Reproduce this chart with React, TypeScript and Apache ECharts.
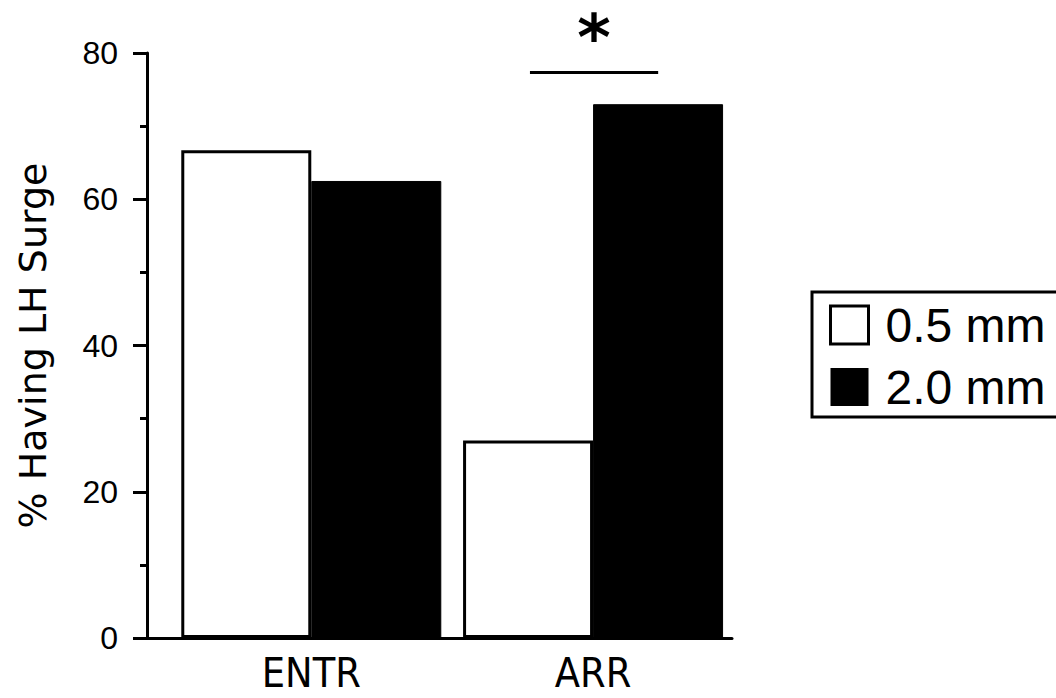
import React, { useEffect, useRef } from "react";
import * as echarts from "echarts";

// ---- data ----
const categories = ["ENTR", "ARR"];
const categoryPositions = [0, 1];
const seriesNames = ["0.5 mm", "2.0 mm"];
const values05 = [66.7, 27.0];
const values20 = [62.5, 73.0];
const yTicks = [0, 20, 40, 60, 80];
const yAxisTitle = "% Having LH Surge";
// significance annotation (ARR: 0.5 vs 2.0 mm)
const sigLineX = [0.776, 1.231];
const sigLineY = 77.3;
const sigLabel = "*";

export default function App() {
  const ref = useRef<HTMLDivElement>(null);
  useEffect(() => {
    if (!ref.current) return;
    const chart = echarts.init(ref.current, null, { renderer: "svg" });
    const black = "#000";
    chart.setOption({
      animation: false,
      backgroundColor: "#fff",
      grid: {
        left: 147,
        top: 53,
        width: 585,
        height: 585,
        containLabel: false,
        outerBoundsMode: "none",
      },
      legend: {
        orient: "vertical",
        left: 812,
        top: 292,
        padding: [9, 80, 6, 17],
        itemWidth: 38,
        itemHeight: 38,
        itemGap: 14,
        borderColor: black,
        borderWidth: 3,
        borderRadius: 0,
        selectedMode: false,
        textStyle: {
          fontFamily: "Liberation Sans",
          fontSize: 48,
          color: black,
          padding: [0, 0, 0, 12],
        },
        data: [
          {
            name: seriesNames[0],
            icon: "rect",
            itemStyle: { color: "#fff", borderColor: black, borderWidth: 3 },
          },
          {
            name: seriesNames[1],
            icon: "rect",
            itemStyle: { color: black, borderColor: black, borderWidth: 0 },
          },
        ],
      },
      xAxis: {
        type: "value",
        min: -0.583,
        max: 1.493,
        splitLine: { show: false },
        axisTick: { show: false },
        axisLine: { show: true, onZero: false, lineStyle: { color: black, width: 3 } },
        axisLabel: {
          customValues: categoryPositions,
          formatter: (v: number) => categories[Math.round(v)] ?? "",
          fontFamily: "DejaVu Sans Condensed, DejaVu Sans",
          fontSize: 41,
          color: black,
          margin: 14,
        },
      },
      yAxis: {
        type: "value",
        min: yTicks[0],
        max: yTicks[yTicks.length - 1],
        interval: yTicks[1] - yTicks[0],
        name: yAxisTitle,
        nameLocation: "middle",
        nameGap: 95,
        nameTextStyle: {
          fontFamily: "DejaVu Sans",
          fontSize: 38,
          color: black,
        },
        splitLine: { show: false },
        axisLine: { show: true, onZero: false, lineStyle: { color: black, width: 3 } },
        axisTick: { show: true, length: 14, lineStyle: { color: black, width: 3 } },
        minorTick: { show: true, splitNumber: 2, length: 7, lineStyle: { color: black, width: 3 } },
        axisLabel: {
          fontFamily: "Liberation Sans",
          fontSize: 32,
          color: black,
          margin: 29,
        },
      },
      series: [
        {
          name: seriesNames[0],
          type: "bar",
          barWidth: 130,
          barGap: "0%",
          data: categoryPositions.map((x, i) => [x, values05[i]]),
          itemStyle: { color: "#fff", borderColor: black, borderWidth: 3 },
        },
        {
          name: seriesNames[1],
          type: "bar",
          barWidth: 130,
          barGap: "0%",
          data: categoryPositions.map((x, i) => [x, values20[i]]),
          itemStyle: { color: black, borderColor: black, borderWidth: 1 },
        },
        {
          name: "significance",
          type: "line",
          data: [],
          silent: true,
          markLine: {
            silent: true,
            symbol: ["none", "none"],
            lineStyle: { color: black, width: 3, type: "solid" },
            label: {
              show: true,
              position: "middle",
              formatter: sigLabel,
              distance: 3,
              fontFamily: "DejaVu Sans",
              fontWeight: "bold",
              fontSize: 64,
              color: black,
            },
            emphasis: { disabled: true },
            data: [
              [
                { coord: [sigLineX[0], sigLineY] },
                { coord: [sigLineX[1], sigLineY] },
              ],
            ],
          },
        },
      ],
    });
    return () => chart.dispose();
  }, []);
  return (
    <div
      ref={ref}
      style={{ position: "fixed", left: 0, top: 0, width: 1056, height: 698 }}
    />
  );
}
